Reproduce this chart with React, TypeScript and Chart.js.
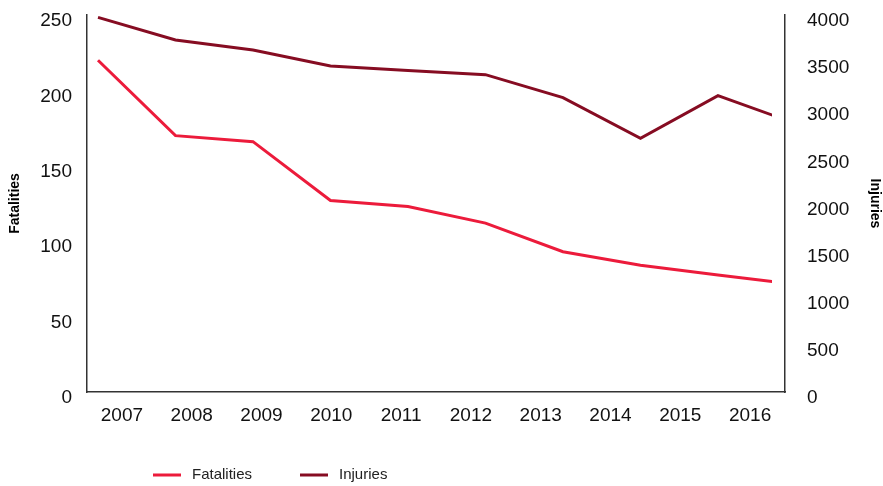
import React, { useEffect, useRef } from "react";
import { Chart, registerables } from "chart.js";

Chart.register(...registerables);

const yearLabels = ["2007", "2008", "2009", "2010", "2011", "2012", "2013", "2014", "2015", "2016"];
const years = [2007, 2008, 2009, 2010, 2011, 2012, 2013, 2014, 2015, 2016];
const fatalities = [220, 170, 166, 127, 123, 112, 93, 84, 77.6, 71.3];
const injuries = [3975, 3735, 3629, 3459, 3411, 3367, 3123, 2692, 3144, 2850];

const FONT = "'Liberation Sans', Arial, Helvetica, sans-serif";
const FAT_COLOR = "#EC1B3B";
const INJ_COLOR = "#860C22";

const legendPlugin = {
  id: "customLegend",
  afterDraw(chart: any) {
    const ctx = chart.ctx;
    const y = 475;
    let x = 153;
    chart.data.datasets.forEach((ds: any) => {
      ctx.save();
      ctx.strokeStyle = ds.borderColor;
      ctx.lineWidth = 3;
      ctx.beginPath();
      ctx.moveTo(x, y);
      ctx.lineTo(x + 28, y);
      ctx.stroke();
      ctx.font = `15px ${FONT}`;
      ctx.fillStyle = "#222";
      ctx.textBaseline = "middle";
      ctx.textAlign = "left";
      ctx.fillText(ds.label, x + 39, y);
      const w = ctx.measureText(ds.label).width;
      x = x + 39 + w + 48;
      ctx.restore();
    });
  },
};

const zeroPad = (s: any) => {
  s.paddingTop = 0;
  s.paddingBottom = 0;
  s.paddingLeft = 0;
  s.paddingRight = 0;
};

export default function App() {
  const ref = useRef<HTMLCanvasElement>(null);
  useEffect(() => {
    document.body.style.margin = "0";
    const canvas = ref.current!;
    const clip = { left: 20, top: 20, right: -13, bottom: 5 };
    const chart = new Chart(canvas, {
      type: "line",
      data: {
        labels: yearLabels,
        datasets: [
          {
            label: "Fatalities",
            data: years.map((yr, i) => ({ x: yr, y: fatalities[i] })),
            borderColor: FAT_COLOR,
            backgroundColor: FAT_COLOR,
            borderWidth: 3,
            pointRadius: 0,
            xAxisID: "xd",
            yAxisID: "y",
            clip,
          } as any,
          {
            label: "Injuries",
            data: years.map((yr, i) => ({ x: yr, y: injuries[i] })),
            borderColor: INJ_COLOR,
            backgroundColor: INJ_COLOR,
            borderWidth: 3,
            pointRadius: 0,
            xAxisID: "xd",
            yAxisID: "y1",
            clip,
          } as any,
        ],
      },
      options: {
        responsive: false,
        animation: false,
        layout: { padding: { top: 15, left: 0, right: 0, bottom: 0 } },
        plugins: {
          legend: { display: false },
          tooltip: { enabled: false },
        },
        scales: {
          x: {
            type: "category",
            position: "bottom",
            offset: true,
            grid: { display: false, drawTicks: false },
            border: { display: true, color: "#333", width: 1.5 },
            ticks: {
              color: "#111",
              font: { family: FONT, size: 19 },
              padding: 12,
              maxRotation: 0,
              autoSkip: false,
            },
            afterFit: (s: any) => {
              s.height = 94;
              zeroPad(s);
            },
          },
          xd: {
            type: "linear",
            display: false,
            min: 2006.858,
            max: 2015.865,
          },
          y: {
            position: "left",
            min: 0,
            max: 250,
            grid: { display: false, drawTicks: false },
            border: { display: true, color: "#333", width: 1.5 },
            ticks: {
              stepSize: 50,
              color: "#111",
              font: { family: FONT, size: 19 },
              padding: 15,
              labelOffset: 6,
              callback: (v: any) => String(v),
            },
            title: {
              display: true,
              text: "Fatalities",
              color: "#000",
              font: { family: FONT, size: 14, weight: "bold" },
              padding: { top: 7, bottom: 0 },
            },
            afterFit: (s: any) => {
              s.width = 87;
              zeroPad(s);
            },
          },
          y1: {
            position: "right",
            min: 0,
            max: 4000,
            grid: { display: false, drawTicks: false },
            border: { display: true, color: "#333", width: 1.5 },
            ticks: {
              stepSize: 500,
              color: "#111",
              font: { family: FONT, size: 19 },
              padding: 22,
              labelOffset: 6,
              callback: (v: any) => String(v),
            },
            title: {
              display: true,
              text: "Injuries",
              color: "#000",
              font: { family: FONT, size: 14, weight: "bold" },
              padding: { top: 0, bottom: 0 },
            },
            afterFit: (s: any) => {
              s.width = 98;
              zeroPad(s);
            },
          },
        },
      } as any,
      plugins: [legendPlugin],
    });
    return () => chart.destroy();
  }, []);
  return (
    <div style={{ width: 883, height: 486 }}>
      <canvas ref={ref} width={883} height={486} style={{ display: "block" }} />
    </div>
  );
}
